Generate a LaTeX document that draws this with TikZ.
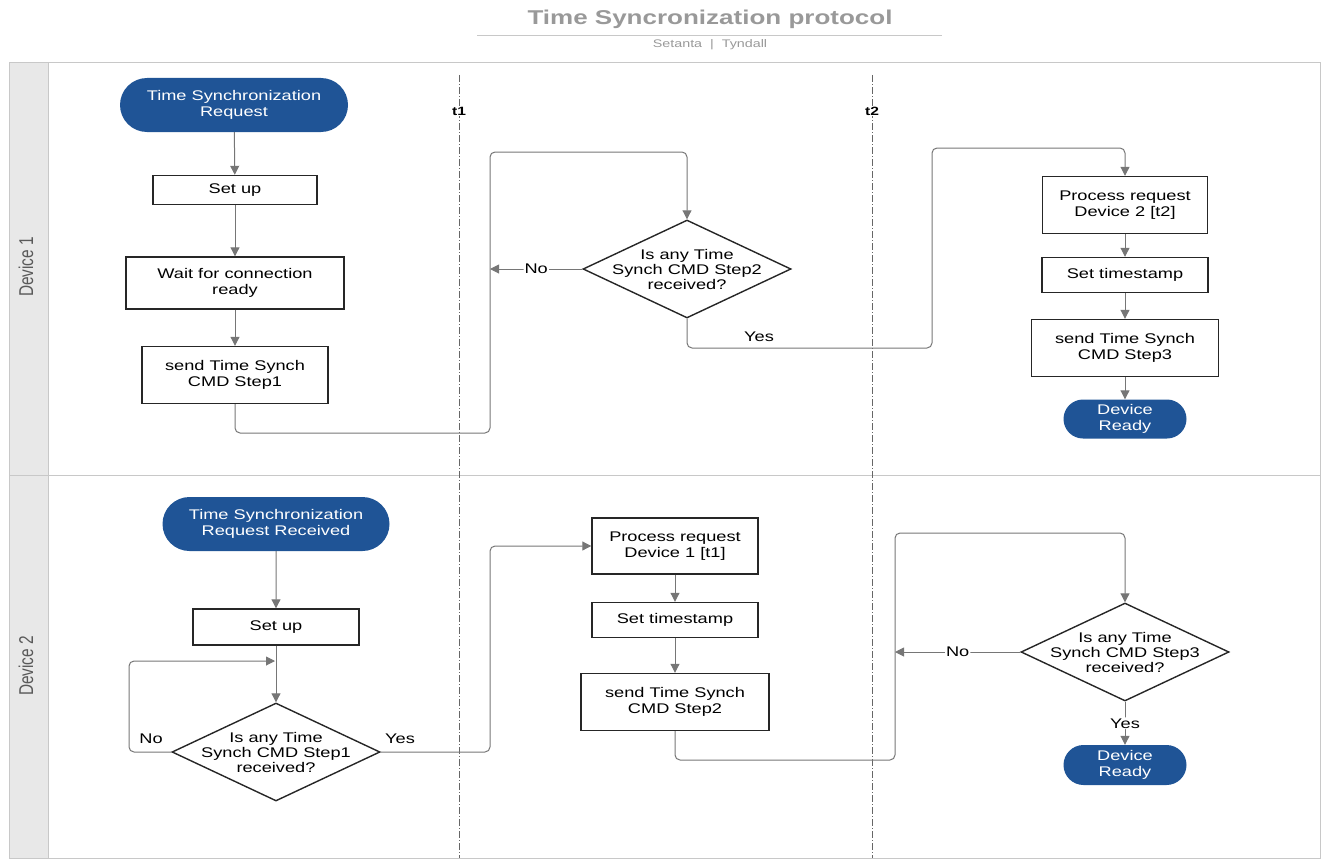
\documentclass[tikz,border=0pt]{standalone}
\usepackage{fontspec}
\setmainfont[FakeStretch=1.3]{Liberation Sans}
\newfontfamily\lanefont[FakeStretch=0.77]{Liberation Sans}
\usetikzlibrary{arrows.meta,shapes.geometric,shapes.misc}
\definecolor{termblue}{RGB}{31,84,150}
\definecolor{flowgray}{RGB}{118,118,118}
\definecolor{lanegray}{RGB}{200,200,200}
\definecolor{headgray}{RGB}{232,232,232}
\tikzset{
  box/.style={draw=black!85, line width=1.4pt, fill=white, inner sep=0pt, align=center, font=\fontsize{14}{16}\selectfont},
  term/.style={rounded rectangle, fill=termblue, text=white, inner sep=0pt, align=center, font=\fontsize{14}{16}\selectfont},
  ask/.style={diamond, aspect=2.1, draw=black!85, line width=1.4pt, fill=white, inner xsep=-20pt, inner ysep=0pt, minimum width=208pt, minimum height=98pt, align=center, font=\fontsize{14}{15}\selectfont},
  flow/.style={draw=flowgray, line width=1pt, rounded corners=5pt, -{Triangle[length=9pt,width=9pt]}},
  tline/.style={draw=black!60, line width=0.8pt, dash pattern=on 7pt off 2pt on 1pt off 2pt},
  say/.style={font=\fontsize{14}{16}\selectfont, fill=white, inner sep=1pt},
  lanelabel/.style={rotate=90, font=\lanefont\fontsize{20}{22}\selectfont, text=black!65},
  tmark/.style={fill=white, inner sep=1pt, font=\fontsize{12}{14}\selectfont\bfseries},
}

\begin{document}
\begin{tikzpicture}[x=1pt,y=-1pt]
		%%%%% START %%%%%
		\useasboundingbox (0,0) rectangle (1323,859);

		% title
		\node[font=\fontsize{20}{22}\selectfont\bfseries, text=black!40] (title) at (710,19) {Time Syncronization protocol};
		\draw[lanegray] (477,35) -- (942,35);
		\node[font=\fontsize{11}{13}\selectfont, text=black!40] (subtitle) at (710,45) {Setanta \ | \ Tyndall};

		% lanes
		\fill[headgray] (9,63) rectangle (48,858);
		\draw[lanegray, line width=1pt] (9,63) rectangle (1320,858);
		\draw[lanegray, line width=1pt] (48,63) -- (48,858);
		\draw[lanegray, line width=1pt] (9,475) -- (1320,475);
		\node[lanelabel] (lane1) at (26,267) {Device 1};
		\node[lanelabel] (lane2) at (26,666) {Device 2};

		% time marks
		\draw[tline] (459,75) -- (459,858);
		\draw[tline] (872,75) -- (872,858);
		\node[tmark] (t1) at (459,111) {t1};
		\node[tmark] (t2) at (872,111) {t2};

		% device 1
		\node[term, minimum width=228pt, minimum height=54pt] (req1) at (234,105) {Time Synchronization\\Request};
		\node[box, minimum width=164pt, minimum height=29pt] (setup1) at (235,190) {Set up};
		\node[box, minimum width=218pt, minimum height=52pt] (wait1) at (235,283) {Wait for connection\\ready};
		\node[box, minimum width=186pt, minimum height=57pt] (send1) at (235,375) {send Time Synch\\CMD Step1};
		\node[ask] (ask2) at (687,269) {Is any Time\\Synch CMD Step2\\received?};
		\node[box, minimum width=165pt, minimum height=57pt] (proc2) at (1125,205) {Process request\\Device 2 [t2]};
		\node[box, minimum width=166pt, minimum height=35pt] (stamp1) at (1125,275) {Set timestamp};
		\node[box, minimum width=187pt, minimum height=57pt] (send3) at (1125,348) {send Time Synch\\CMD Step3};
		\node[term, minimum width=123pt, minimum height=39pt] (ready1) at (1125,419) {Device\\Ready};

		\draw[flow] (req1) -- (setup1);
		\draw[flow] (setup1) -- (wait1);
		\draw[flow] (wait1) -- (send1);
		\draw[flow] (send1.south) |- (490,433) -- (490,152) -| (ask2.north);
		\draw[flow] (ask2.west) -- node[say] {No} (490,269);
		\draw[flow] (ask2.south) |- (932,348) -- (932,148) -| (proc2.north);
		\node[say, fill=none] (yes2) at (759,337) {Yes};
		\draw[flow] (proc2) -- (stamp1);
		\draw[flow] (stamp1) -- (send3);
		\draw[flow] (send3) -- (ready1);

		% device 2
		\node[term, minimum width=227pt, minimum height=54pt] (req2) at (276,524) {Time Synchronization\\Request Received};
		\node[box, minimum width=166pt, minimum height=36pt] (setup2) at (276,627) {Set up};
		\node[ask] (ask1) at (276,752) {Is any Time\\Synch CMD Step1\\received?};
		\node[box, minimum width=166pt, minimum height=56pt] (proc1) at (675,546) {Process request\\Device 1 [t1]};
		\node[box, minimum width=166pt, minimum height=35pt] (stamp2) at (675,620) {Set timestamp};
		\node[box, minimum width=188pt, minimum height=57pt] (send2) at (675,702) {send Time Synch\\CMD Step2};
		\node[ask] (ask3) at (1125,652) {Is any Time\\Synch CMD Step3\\received?};
		\node[term, minimum width=123pt, minimum height=40pt] (ready2) at (1125,765) {Device\\Ready};
		\coordinate (loop1) at (275,661);

		\draw[flow] (req2) -- (setup2);
		\draw[flow] (setup2) -- (ask1);
		\draw[flow] (ask1.west) -- (129,752) |- (loop1);
		\node[say, fill=none] (no1) at (151,739) {No};
		\draw[flow] (ask1.east) -- (490,752) |- (proc1.west);
		\node[say, fill=none] (yes1) at (400,739) {Yes};
		\draw[flow] (proc1) -- (stamp2);
		\draw[flow] (stamp2) -- (send2);
		\draw[flow] (send2.south) |- (895,760) -- (895,533) -| (ask3.north);
		\draw[flow] (ask3.west) -- node[say] {No} (895,652);
		\draw[flow] (ask3.south) -- node[say] {Yes} (ready2.north);
		%%%%% END %%%%%
\end{tikzpicture}
\end{document}
